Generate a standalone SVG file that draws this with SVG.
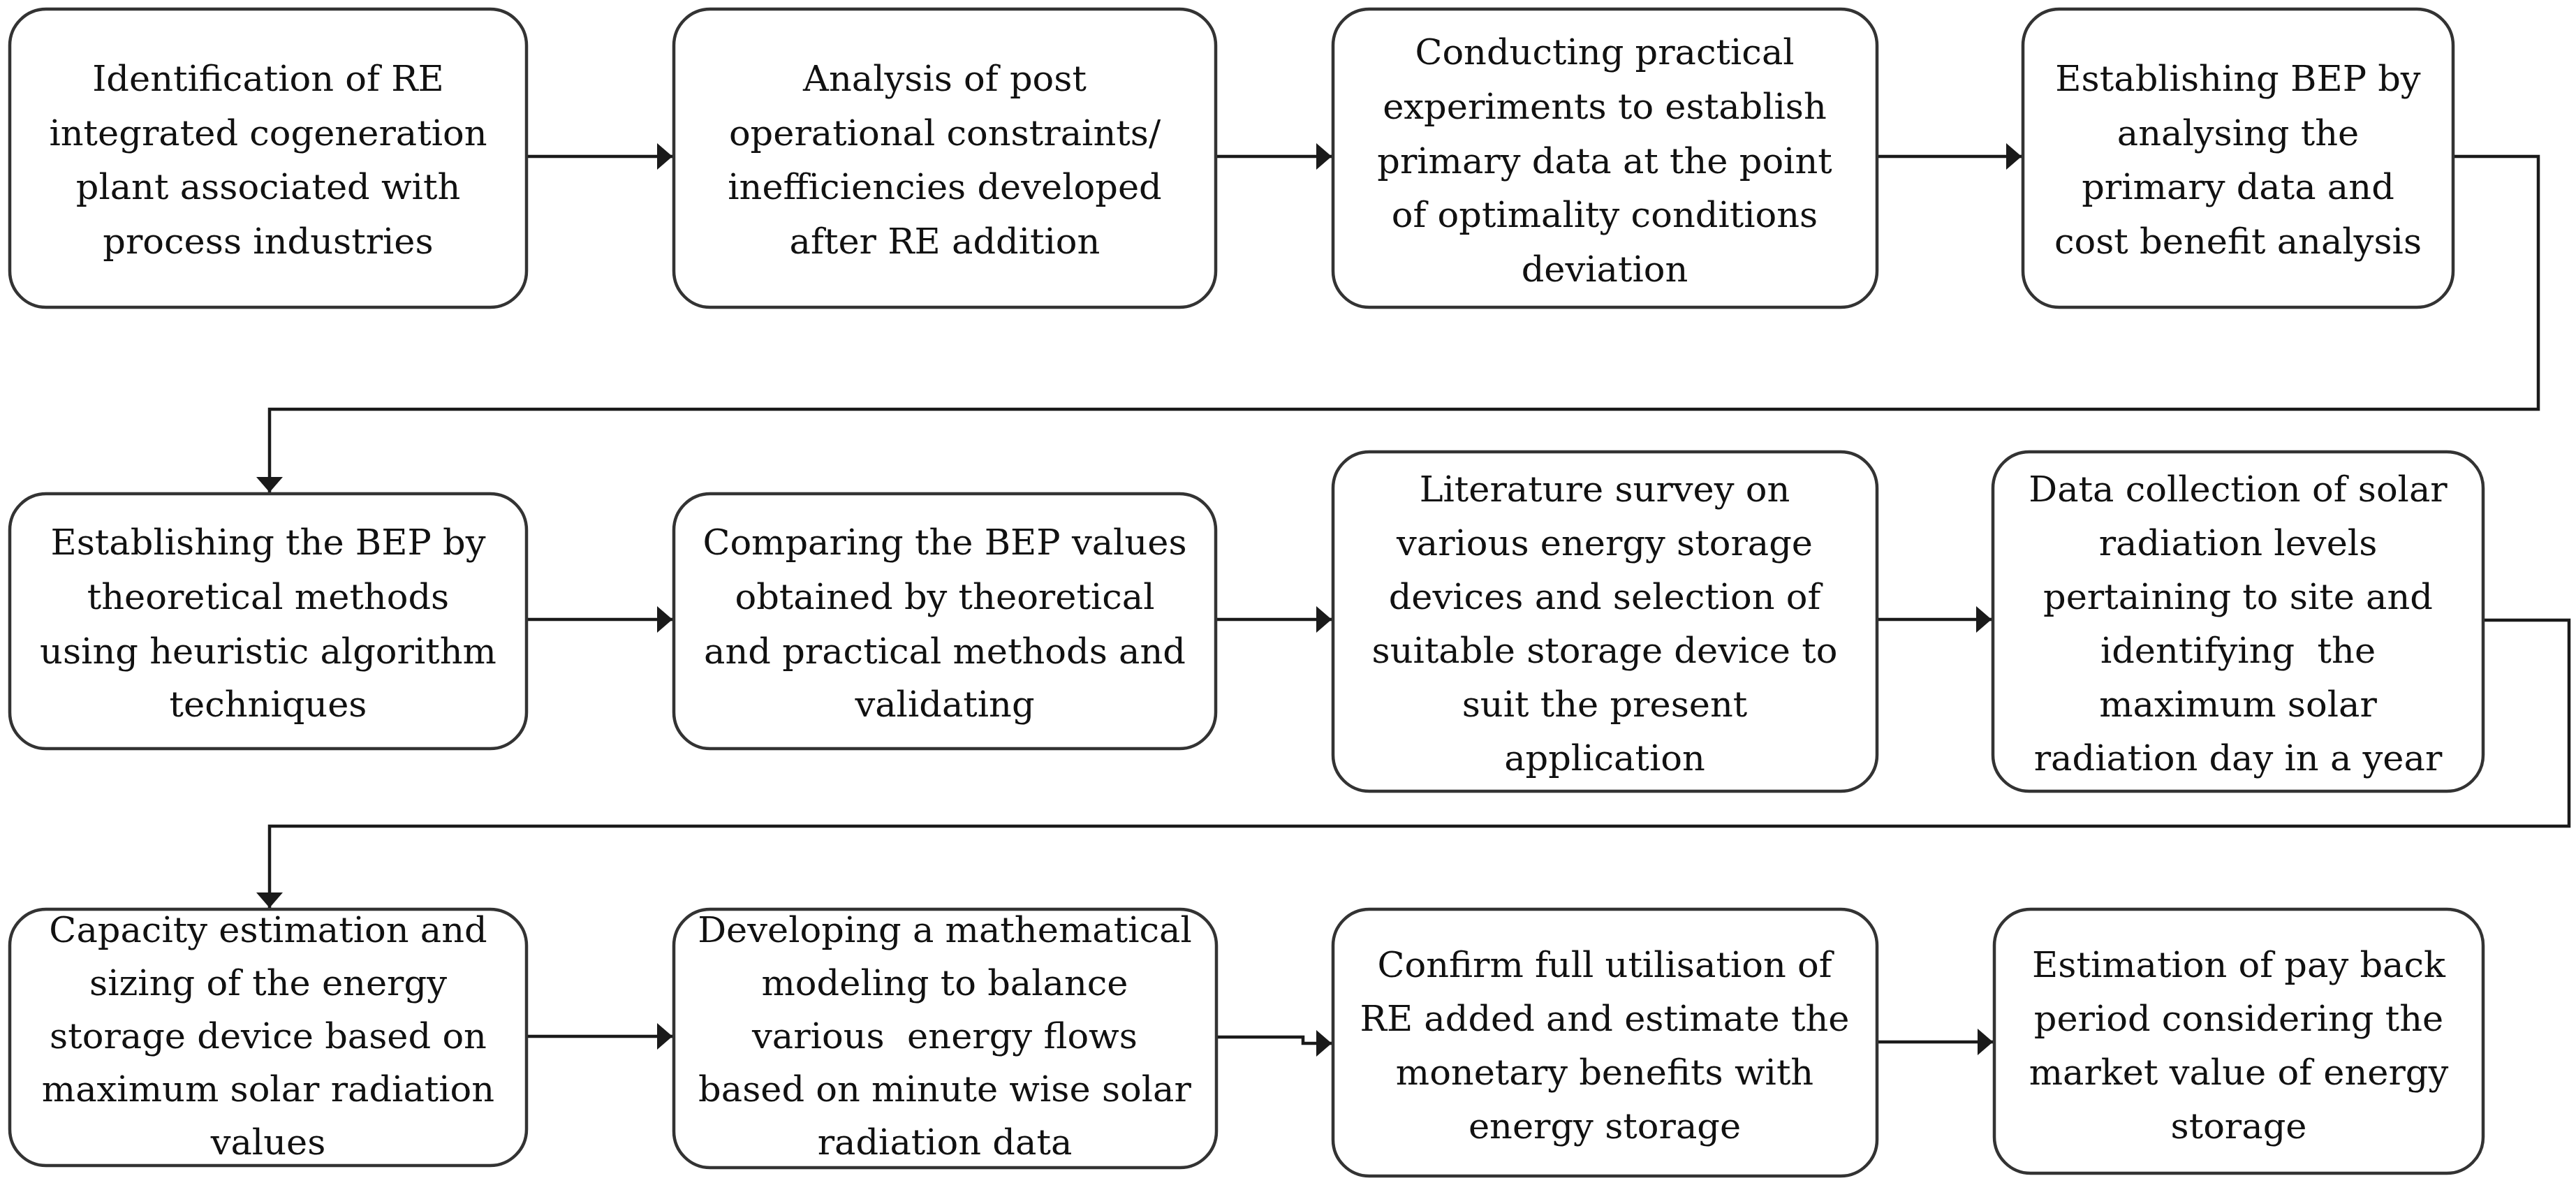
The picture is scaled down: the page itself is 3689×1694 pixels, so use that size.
<svg xmlns="http://www.w3.org/2000/svg" width="3689" height="1694" viewBox="0 0 3689 1694">
<style>
.box{fill:#ffffff;stroke:#333333;stroke-width:4.5}
.t{font-family:"DejaVu Serif","Liberation Serif",serif;font-size:51px;fill:#111111;text-anchor:middle}
.c{fill:none;stroke:#1a1a1a;stroke-width:4.5;marker-end:url(#ah)}
</style>
<defs>
<marker id="ah" markerUnits="userSpaceOnUse" markerWidth="24" markerHeight="40" refX="22" refY="20" orient="auto" viewBox="0 0 24 40">
<path d="M0,1 L22,20 L0,39 z" fill="#1a1a1a"/>
</marker>
</defs>
<rect width="3689" height="1694" fill="#ffffff"/>
<g id="connectors">
<path class="c" d="M754,224 H963"/>
<path class="c" d="M1741,224 H1907"/>
<path class="c" d="M2688,224 H2895"/>
<path class="c" d="M3511,224 H3635 V586 H386 V705"/>
<path class="c" d="M754,887 H963"/>
<path class="c" d="M1741,887 H1907"/>
<path class="c" d="M2688,887 H2852"/>
<path class="c" d="M3556,888 H3679 V1183 H386 V1300"/>
<path class="c" d="M754,1484 H963"/>
<path class="c" d="M1742,1485 H1866 V1494 H1907"/>
<path class="c" d="M2688,1492 H2854"/>
</g>
<g id="n1"><rect class="box" x="14" y="13" width="740" height="427" rx="52"/>
<text class="t"><tspan x="384" y="130">Identification of RE</tspan><tspan x="384" y="208">integrated cogeneration</tspan><tspan x="384" y="285">plant associated with</tspan><tspan x="384" y="363">process industries</tspan></text></g>
<g id="n2"><rect class="box" x="965" y="13" width="776" height="427" rx="52"/>
<text class="t"><tspan x="1353" y="130">Analysis of post</tspan><tspan x="1353" y="208">operational constraints/</tspan><tspan x="1353" y="285">inefficiencies developed</tspan><tspan x="1353" y="363">after RE addition</tspan></text></g>
<g id="n3"><rect class="box" x="1909" y="13" width="779" height="427" rx="52"/>
<text class="t"><tspan x="2298" y="92">Conducting practical</tspan><tspan x="2298" y="170">experiments to establish</tspan><tspan x="2298" y="248">primary data at the point</tspan><tspan x="2298" y="325">of optimality conditions</tspan><tspan x="2298" y="403">deviation</tspan></text></g>
<g id="n4"><rect class="box" x="2897" y="13" width="616" height="427" rx="52"/>
<text class="t"><tspan x="3205" y="130">Establishing BEP by</tspan><tspan x="3205" y="208">analysing the</tspan><tspan x="3205" y="285">primary data and</tspan><tspan x="3205" y="363">cost benefit analysis</tspan></text></g>
<g id="n5"><rect class="box" x="14" y="707" width="740" height="365" rx="52"/>
<text class="t"><tspan x="384" y="794">Establishing the BEP by</tspan><tspan x="384" y="872">theoretical methods</tspan><tspan x="384" y="950">using heuristic algorithm</tspan><tspan x="384" y="1026">techniques</tspan></text></g>
<g id="n6"><rect class="box" x="965" y="707" width="776" height="365" rx="52"/>
<text class="t"><tspan x="1353" y="794">Comparing the BEP values</tspan><tspan x="1353" y="872">obtained by theoretical</tspan><tspan x="1353" y="950">and practical methods and</tspan><tspan x="1353" y="1026">validating</tspan></text></g>
<g id="n7"><rect class="box" x="1909" y="647" width="779" height="486" rx="52"/>
<text class="t"><tspan x="2298" y="718">Literature survey on</tspan><tspan x="2298" y="795">various energy storage</tspan><tspan x="2298" y="872">devices and selection of</tspan><tspan x="2298" y="949">suitable storage device to</tspan><tspan x="2298" y="1026">suit the present</tspan><tspan x="2298" y="1103">application</tspan></text></g>
<g id="n8"><rect class="box" x="2854" y="647" width="702" height="486" rx="52"/>
<text class="t"><tspan x="3205" y="718">Data collection of solar</tspan><tspan x="3205" y="795">radiation levels</tspan><tspan x="3205" y="872">pertaining to site and</tspan><tspan x="3205" y="949" xml:space="preserve">identifying  the</tspan><tspan x="3205" y="1026">maximum solar</tspan><tspan x="3205" y="1103">radiation day in a year</tspan></text></g>
<g id="n9"><rect class="box" x="14" y="1302" width="740" height="367" rx="52"/>
<text class="t"><tspan x="384" y="1349">Capacity estimation and</tspan><tspan x="384" y="1425">sizing of the energy</tspan><tspan x="384" y="1501">storage device based on</tspan><tspan x="384" y="1577">maximum solar radiation</tspan><tspan x="384" y="1653">values</tspan></text></g>
<g id="n10"><rect class="box" x="965" y="1302" width="777" height="370" rx="52"/>
<text class="t"><tspan x="1353" y="1349">Developing a mathematical</tspan><tspan x="1353" y="1425">modeling to balance</tspan><tspan x="1353" y="1501" xml:space="preserve">various  energy flows</tspan><tspan x="1353" y="1577">based on minute wise solar</tspan><tspan x="1353" y="1653">radiation data</tspan></text></g>
<g id="n11"><rect class="box" x="1909" y="1302" width="779" height="382" rx="52"/>
<text class="t"><tspan x="2298" y="1399">Confirm full utilisation of</tspan><tspan x="2298" y="1476">RE added and estimate the</tspan><tspan x="2298" y="1553">monetary benefits with</tspan><tspan x="2298" y="1630">energy storage</tspan></text></g>
<g id="n12"><rect class="box" x="2856" y="1302" width="700" height="378" rx="52"/>
<text class="t"><tspan x="3206" y="1399">Estimation of pay back</tspan><tspan x="3206" y="1476">period considering the</tspan><tspan x="3206" y="1553">market value of energy</tspan><tspan x="3206" y="1630">storage</tspan></text></g>
</svg>
